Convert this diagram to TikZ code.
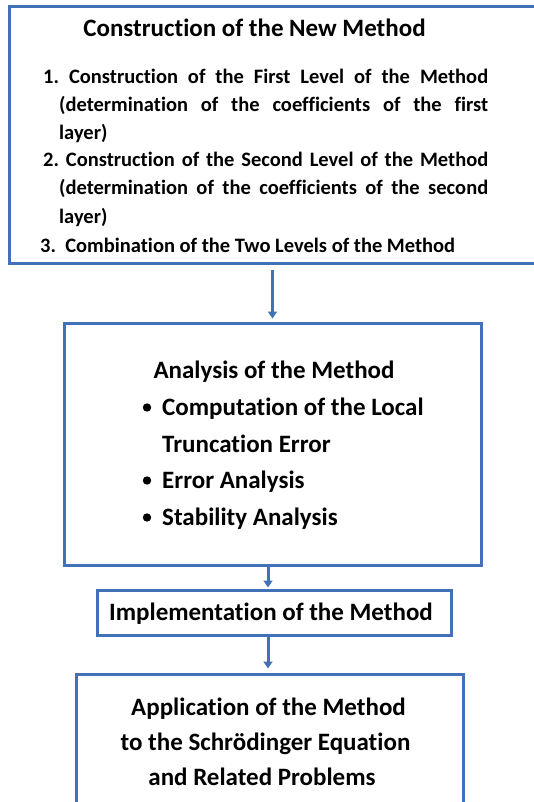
\documentclass[tikz,border=0pt]{standalone}
\usepackage{fontspec}
\setmainfont{Carlito}[Ligatures=NoCommon]
\usepackage{tikz}
\usetikzlibrary{arrows.meta,calc}
\definecolor{boxblue}{RGB}{65,113,182}
\frenchspacing

\tikzset{
	blockbox/.style={draw=boxblue,line width=3pt,inner sep=0pt},
	flowarrow/.style={draw=boxblue,line width=3pt,-{Triangle[width=9pt,length=7pt]}},
	line/.style={anchor=base west,inner sep=0pt,font=\bfseries\fontsize{20.5}{24}\selectfont},
	head/.style={anchor=base,inner sep=0pt,font=\bfseries\fontsize{25}{30}\selectfont},
	bigline/.style={anchor=base west,inner sep=0pt,font=\bfseries\fontsize{25}{30}\selectfont},
	bighead/.style={anchor=base,inner sep=0pt,font=\bfseries\fontsize{25}{30}\selectfont}
}

\begin{document}
\begin{tikzpicture}[x=1pt,y=-1pt]
\useasboundingbox (0,0) rectangle (534,802);

% the four boxes
\node[blockbox,minimum width=536pt,minimum height=256.5pt] (construct) at (277,134.75) {};
\node[blockbox,minimum width=417pt,minimum height=242pt] (analysis) at (272.5,444) {};
\node[blockbox,minimum width=354pt,minimum height=45pt] (implement) at (274,612.5) {};
\node[blockbox,minimum width=387pt,minimum height=150pt] (apply) at (269.5,749) {};

% construction of the new method
\node[head] (constitle) at (254.5,37) {Construction of the New Method};
\node[line] (cons1) at (43,84) {\makebox[445pt][s]{1. Construction of the First Level of the Method}};
\node[line] (cons1b) at (59,112) {\makebox[429pt][s]{(determination of the coefficients of the first}};
\node[line] (cons1c) at (59,140) {layer)};
\node[line] (cons2) at (43,167) {\makebox[445pt][s]{2. Construction of the Second Level of the Method}};
\node[line] (cons2b) at (59,195) {\makebox[429pt][s]{(determination of the coefficients of the second}};
\node[line] (cons2c) at (59,223) {layer)};
\node[line] (cons3) at (40,252) {3.\ \ Combination of the Two Levels of the Method};

% analysis
\node[bighead] (anatitle) at (274,378) {Analysis of the Method};
\node[bigline] (ana1) at (162,415) {Computation of the Local};
\node[bigline] (ana1b) at (162,452) {Truncation Error};
\node[bigline] (ana2) at (162,488) {Error Analysis};
\node[bigline] (ana3) at (162,525) {Stability Analysis};
\foreach \n in {ana1,ana2,ana3}
	\fill (\n.base west) ++(-15,-7.5) circle (4.2pt);

% implementation
\node[bighead] (impltitle) at (271,620) {Implementation of the Method};

% application
\node[bighead] (appl1) at (268.5,715) {Application of the Method};
\node[bighead] (appl2) at (265.5,750) {to the Schrödinger Equation};
\node[bighead] (appl3) at (262,785) {and Related Problems};

% connectors
\coordinate (axis) at (268,0);
\draw[flowarrow,shorten <=5pt,shorten >=3pt] (construct.south -| analysis.north) -- (analysis.north);
\draw[flowarrow,shorten >=1pt] (analysis.south -| axis) -- (implement.north -| axis);
\draw[flowarrow,shorten >=4pt] (implement.south -| axis) -- (apply.north -| axis);
\end{tikzpicture}
\end{document}
